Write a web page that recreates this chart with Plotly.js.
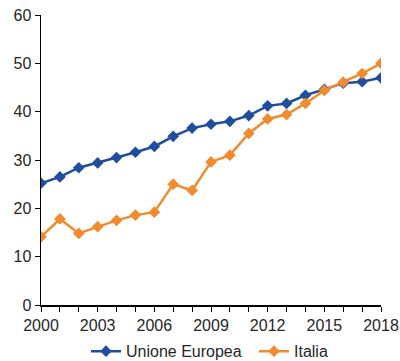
<!DOCTYPE html>
<html>
<head>
<meta charset="utf-8">
<script src="https://cdn.plot.ly/plotly-3.0.1.min.js"></script>
<style>html,body{margin:0;padding:0;background:#fff;}#chart{width:400px;height:361px;}</style>
</head>
<body>
<div id="chart"></div>
<script>
const years = [2000,2001,2002,2003,2004,2005,2006,2007,2008,2009,2010,2011,2012,2013,2014,2015,2016,2017,2018];
const ueValues = [25.2,26.5,28.4,29.4,30.5,31.6,32.8,34.9,36.6,37.4,38.0,39.2,41.2,41.7,43.4,44.6,45.9,46.2,47.0];
const itValues = [14.1,17.8,14.8,16.2,17.5,18.6,19.2,25.0,23.7,29.6,31.0,35.5,38.5,39.4,41.7,44.4,46.1,47.9,50.0];
const xTicks = [2000,2003,2006,2009,2012,2015,2018];
const yTicks = [0,10,20,30,40,50,60];
const seriesNames = ['Unione Europea','Italia'];

const font = {family:'"Liberation Sans", Arial, sans-serif', size:16, color:'#262626'};
const traces = [
  {x:years, y:ueValues, name:seriesNames[0], type:'scatter', mode:'lines+markers',
   line:{color:'#1F4E9E', width:2.5}, marker:{symbol:'diamond', size:9, color:'#1F4E9E'}},
  {x:years, y:itValues, name:seriesNames[1], type:'scatter', mode:'lines+markers',
   line:{color:'#F28A2E', width:2.5}, marker:{symbol:'diamond', size:9, color:'#F28A2E'}}
];
const layout = {
  width:400, height:361,
  margin:{l:41, r:19, t:15, b:56},
  paper_bgcolor:'#fff', plot_bgcolor:'#fff',
  font:font,
  showlegend:true,
  legend:{orientation:'h', xref:'container', yref:'container', x:0.215, xanchor:'left', y:0.027, yanchor:'middle',
    entrywidth:123, entrywidthmode:'pixels',
    font:{family:font.family, size:16, color:'#262626'}, bgcolor:'rgba(0,0,0,0)'},
  xaxis:{range:[2000,2018], tickvals:xTicks, ticktext:xTicks.map(String), ticks:'outside', ticklen:5, tickcolor:'#000',
    showline:true, linecolor:'#000', linewidth:1.5, showgrid:false, zeroline:false, automargin:false,
    minor:{tickvals:years, ticks:'outside', ticklen:5, tickcolor:'#000', showgrid:false}},
  yaxis:{range:[0,60], tickvals:yTicks, ticks:'outside', ticklen:5, tickcolor:'#000', automargin:false,
    showline:true, linecolor:'#000', linewidth:1.5, showgrid:false, zeroline:false}
};
Plotly.newPlot('chart', traces, layout, {displayModeBar:false, staticPlot:true});
</script>
</body>
</html>
